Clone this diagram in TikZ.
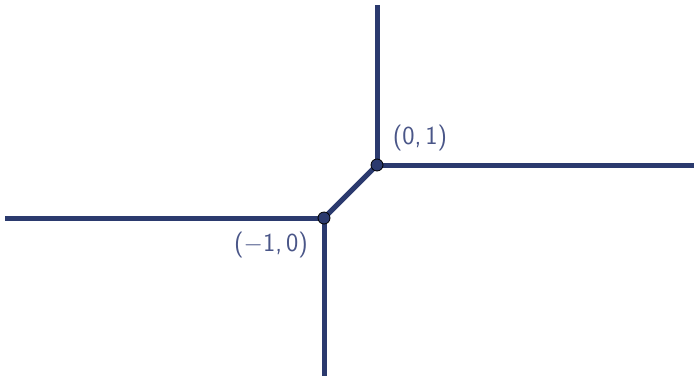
\documentclass[tikz,border=0pt]{standalone}
\usepackage{xcolor}
\definecolor{lineblue}{HTML}{2B3A6E}
\definecolor{labelblue}{HTML}{4A5688}
\begin{document}
\begin{tikzpicture}[x=1pt,y=-1pt,
  trop/.style={draw=lineblue,line width=5pt},
  pt/.style={circle,fill=lineblue,draw=black,line width=0.8pt,inner sep=0pt,minimum size=12pt},
  lab/.style={text=labelblue,font=\sffamily\fontsize{26}{31}\selectfont,inner sep=0pt}]
\useasboundingbox (0,0) rectangle (694,376);
\coordinate (top) at (377,5);
\coordinate (right) at (694,165);
\coordinate (left) at (5,218);
\coordinate (bottom) at (324,376);
\coordinate (A) at (377,165);
\coordinate (B) at (324,218);
\draw[trop] (top) -- (A);
\draw[trop] (A) -- (right);
\draw[trop] (A) -- (B);
\draw[trop] (left) -- (B);
\draw[trop] (B) -- (bottom);
\node[pt] (pA) at (A) {};
\node[pt] (pB) at (B) {};
\node[lab] (lA) at (420,138) {(0,\kern4pt1)};
\node[lab] (lB) at (271,245) {($-$1,\kern4pt0)};
\end{tikzpicture}
\end{document}
